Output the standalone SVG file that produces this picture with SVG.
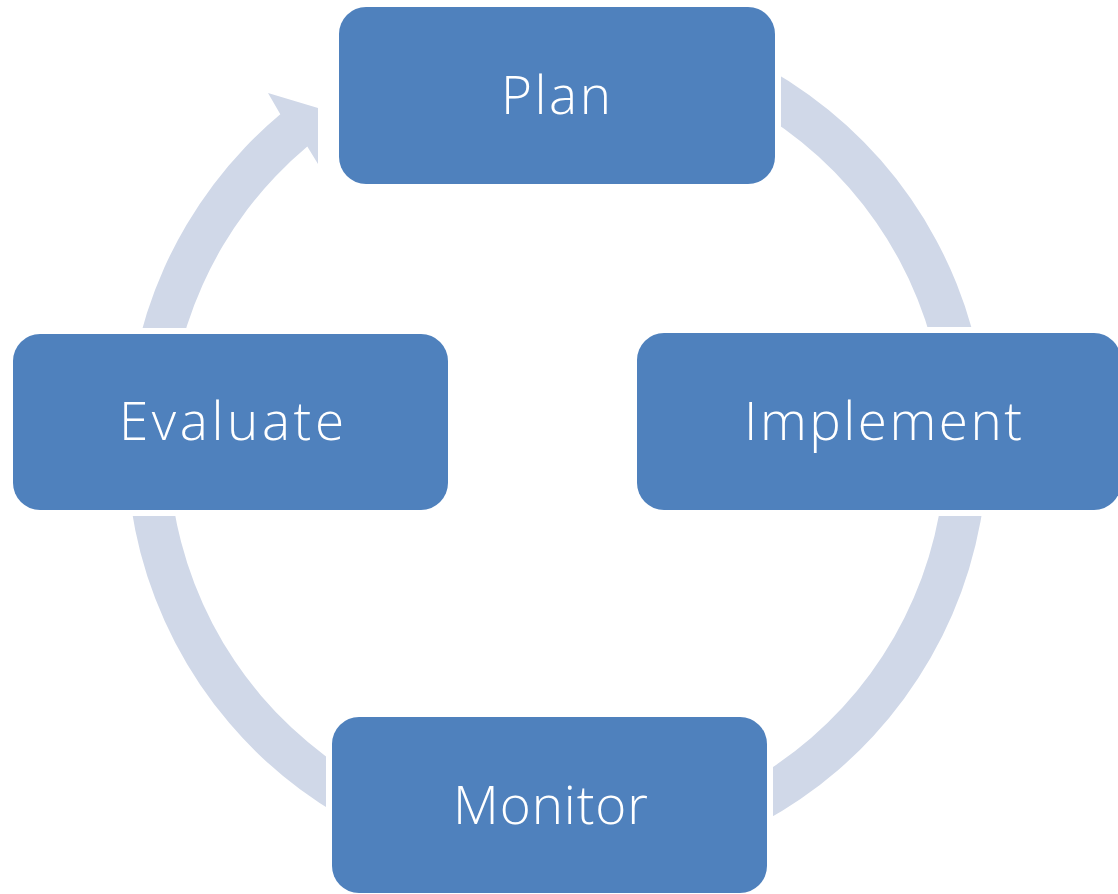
<svg xmlns="http://www.w3.org/2000/svg" width="1118" height="894" viewBox="0 0 1118 894">
  <style>
    .box { fill: #4F81BD; stroke: #FFFFFF; stroke-width: 12; paint-order: stroke fill; }
    .lbl { fill: #FFFFFF; font-family: "Open Sans", "Liberation Sans", sans-serif; font-weight: 300; font-size: 53px; text-anchor: middle; }
    .arrow { fill: #D0D8E8; stroke: none; }
  </style>
  <rect x="0" y="0" width="1118" height="894" fill="#FFFFFF"/>
  <g id="connectors">
    <path class="arrow" d="M 631.8 20.0 A 430.5 430.5 0 1 1 280.3 114.2 L 268 93 L 318 108 L 318 164 L 307.3 146.4 A 388.5 388.5 0 1 0 624.5 61.4 Z"/>
  </g>
  <g id="node-plan">
    <rect class="box" x="339" y="7" width="436" height="177" rx="27" ry="27"/>
    <text class="lbl" x="556" y="114" textLength="110" lengthAdjust="spacing">Plan</text>
  </g>
  <g id="node-implement">
    <rect class="box" x="637" y="333" width="484" height="177" rx="27" ry="27"/>
    <text class="lbl" x="883" y="440" textLength="278" lengthAdjust="spacing">Implement</text>
  </g>
  <g id="node-monitor">
    <rect class="box" x="332" y="717" width="435" height="176" rx="27" ry="27"/>
    <text class="lbl" x="550.5" y="824" textLength="195" lengthAdjust="spacing">Monitor</text>
  </g>
  <g id="node-evaluate">
    <rect class="box" x="13" y="334" width="435" height="176" rx="27" ry="27"/>
    <text class="lbl" x="231.5" y="440" textLength="225" lengthAdjust="spacing">Evaluate</text>
  </g>
</svg>
